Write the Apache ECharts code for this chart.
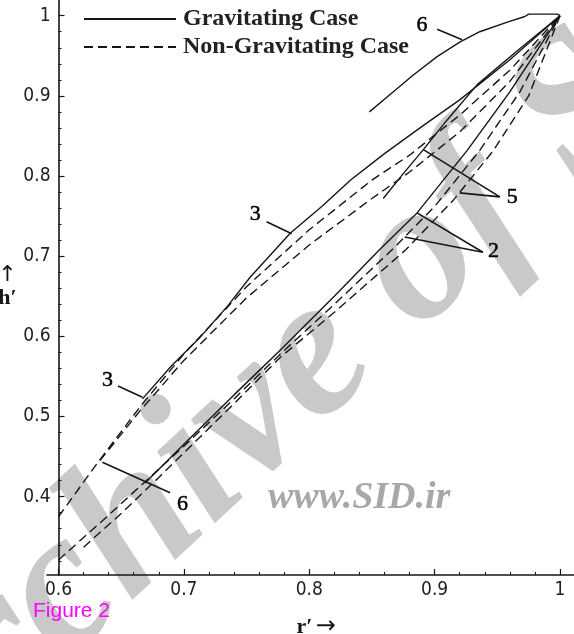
<!DOCTYPE html>
<html><head><meta charset="utf-8">
<script src="https://cdn.jsdelivr.net/npm/echarts@6/dist/echarts.min.js"></script>
<style>html,body{margin:0;padding:0;background:#fff}#c{width:574px;height:634px}</style>
</head><body><div id="c"></div>
<script>
// ---- axis ticks ----
const xTicks = [0.6, 0.7, 0.8, 0.9, 1.0];
const xMinorTicks = [0.62,0.64,0.66,0.68,0.72,0.74,0.76,0.78,0.82,0.84,0.86,0.88,0.92,0.94,0.96,0.98];
const yTicks = [0.4, 0.5, 0.6, 0.7, 0.8, 0.9, 1.0];
const yMinorTicks = [0.32,0.34,0.36,0.38,0.42,0.44,0.46,0.48,0.52,0.54,0.56,0.58,0.62,0.64,0.66,0.68,0.72,0.74,0.76,0.78,0.82,0.84,0.86,0.88,0.92,0.94,0.96,0.98];

// ---- gravitating case (solid) ----
const grav2 = [[0.669,0.417],[0.701,0.467],[0.74,0.527],[0.777,0.583],[0.82,0.650],[0.856,0.708],[0.886,0.754],[0.926,0.832],[0.96,0.905],[1,1]];
const grav3 = [[0.667,0.522],[0.69,0.563],[0.713,0.599],[0.735,0.638],[0.753,0.674],[0.785,0.729],[0.81,0.762],[0.833,0.795],[0.86,0.828],[0.89,0.862],[0.92,0.895],[0.96,0.945],[1,1]];
const grav5 = [[0.859,0.772],[0.875,0.803],[0.891,0.833],[0.91,0.870],[0.934,0.914],[0.965,0.955],[1,1]];
const grav6 = [[0.848,0.880],[0.864,0.901],[0.883,0.926],[0.902,0.949],[0.920,0.967],[0.936,0.980],[0.958,0.992],[0.972,0.999],[0.975,1.002],[0.998,1.002],[1,1]];

// ---- non-gravitating case (dashed) ----
const nongrav2 = [[0.6,0.321],[0.64,0.377],[0.67,0.420],[0.70,0.463],[0.74,0.522],[0.777,0.578],[0.82,0.640],[0.866,0.708],[0.90,0.762],[0.936,0.832],[0.968,0.905],[1,1]];
const nongrav3 = [[0.6,0.375],[0.631,0.442],[0.665,0.512],[0.7,0.578],[0.75,0.662],[0.8,0.733],[0.85,0.795],[0.88,0.826],[0.92,0.876],[0.96,0.932],[1,1]];
const nongrav5 = [[0.62,0.337],[0.65,0.379],[0.68,0.424],[0.71,0.470],[0.74,0.516],[0.777,0.574],[0.82,0.630],[0.877,0.708],[0.915,0.770],[0.947,0.832],[0.975,0.900],[1,1]];
const nongrav6 = [[0.633,0.445],[0.665,0.507],[0.7,0.570],[0.75,0.648],[0.8,0.714],[0.85,0.772],[0.88,0.805],[0.92,0.855],[0.96,0.918],[1,1]];

// ---- curve annotations ----
const annoLabels = [['6',0.890,0.988],['3',0.757,0.752],['5',0.962,0.773],['2',0.947,0.706],['3',0.639,0.545],['6',0.699,0.390]];
const leaders = [
  [[0.902,0.983],[0.922,0.970]],
  [[0.766,0.743],[0.786,0.728]],
  [[0.952,0.774],[0.891,0.833]],
  [[0.952,0.774],[0.920,0.779]],
  [[0.9385,0.705],[0.886,0.754]],
  [[0.9385,0.705],[0.876,0.724]],
  [[0.6475,0.538],[0.667,0.524]],
  [[0.689,0.405],[0.635,0.443]]
];

const X_MIN = 0.6, X_MAX = 1.01117, X_LINE_MIN = 0.59083, Y_MIN = 0.3023, Y_MAX = 1.0196;
const INK = '#161616';
const tickFont = '"Liberation Sans Narrow","DejaVu Sans Condensed",sans-serif';
const serif = '"Liberation Serif","DejaVu Serif",serif';
const fmt = v => Math.abs(v - 1) < 1e-9 ? '1' : v.toFixed(1);

const gridMain = {left: 58.5, right: 0, top: 0, bottom: 59, containLabel: false, outerBoundsMode: 'none'};
const gridWide = {left: 47, right: 0, top: 0, bottom: 59, containLabel: false, outerBoundsMode: 'none'};
const series = [];
const solidLine = {color: INK, width: 1.4, type: 'solid'};
const dashLine = {color: INK, width: 1.4, type: [9, 5]};
[grav2, grav3, grav5, grav6].forEach(d => series.push({
  type: 'line', name: 'Gravitating Case', data: d, symbol: 'none', showSymbol: false,
  lineStyle: solidLine, itemStyle: {color: INK}, smooth: false, z: 3, silent: true
}));
[nongrav2, nongrav3, nongrav5, nongrav6].forEach(d => series.push({
  type: 'line', name: 'Non-Gravitating Case', data: d, symbol: 'none', showSymbol: false,
  lineStyle: dashLine, itemStyle: {color: INK}, smooth: false, z: 3, silent: true
}));
series.push({
  type: 'lines', coordinateSystem: 'cartesian2d', silent: true, z: 4,
  data: leaders.map(c => ({coords: c})),
  lineStyle: {color: INK, width: 1.6, opacity: 1}
});
series.push({
  type: 'scatter', silent: true, z: 5, symbol: 'circle', symbolSize: 0, itemStyle: {color: INK, opacity: 1},
  data: annoLabels.map(([t, x, y]) => ({value: [x, y], label: {formatter: t}})),
  label: {show: true, position: 'inside', fontFamily: serif, fontSize: 22, color: '#000',
          textBorderColor: '#000', textBorderWidth: 0.5}
});

const chart = echarts.init(document.getElementById('c'), null, {renderer: 'canvas'});
chart.setOption({
  animation: false,
  backgroundColor: '#fff',
  grid: [gridMain, Object.assign({}, gridMain), gridWide],
  legend: {
    left: 83, top: 7, padding: 0, orient: 'vertical', itemWidth: 92, itemHeight: 20, itemGap: 4,
    selectedMode: false, data: ['Gravitating Case', 'Non-Gravitating Case'],
    itemStyle: {opacity: 0, borderWidth: 0},
    textStyle: {fontFamily: serif, fontWeight: 'bold', fontSize: 24, color: '#222', padding: [0, 0, 0, 2]}
  },
  xAxis: [
    {type: 'value', gridIndex: 0, min: X_MIN, max: X_MAX, position: 'bottom',
     name: '{r|r′} {a|→}', nameLocation: 'middle', nameGap: 40,
     nameTextStyle: {rich: {
       r: {fontFamily: serif, fontWeight: 'bold', fontSize: 22, color: INK},
       a: {fontFamily: '"DejaVu Sans",sans-serif', fontSize: 24, color: INK}
     }},
     axisLine: {show: false},
     axisTick: {inside: true, length: 6, lineStyle: {color: INK, width: 1.2}, customValues: xTicks},
     axisLabel: {customValues: xTicks, formatter: fmt, margin: 6, fontFamily: tickFont, fontSize: 19, color: '#222'},
     splitLine: {show: false}},
    {type: 'value', gridIndex: 1, min: X_MIN, max: X_MAX, position: 'bottom',
     axisLine: {show: false},
     axisTick: {inside: true, length: 3, lineStyle: {color: INK, width: 1}, customValues: xMinorTicks},
     axisLabel: {show: false}, splitLine: {show: false}},
    {type: 'value', gridIndex: 2, min: X_LINE_MIN, max: X_MAX, position: 'bottom',
     axisLine: {show: true, lineStyle: {color: INK, width: 1.6}},
     axisTick: {show: false}, axisLabel: {show: false}, splitLine: {show: false}}
  ],
  yAxis: [
    {type: 'value', gridIndex: 0, min: Y_MIN, max: Y_MAX, position: 'left',
     name: '{a|↑}\n{h|h′}', nameLocation: 'middle', nameRotate: 0, nameGap: 51,
     nameTextStyle: {align: 'center', rich: {
       a: {fontFamily: '"DejaVu Sans",sans-serif', fontSize: 22, color: INK, lineHeight: 22, align: 'center'},
       h: {fontFamily: serif, fontWeight: 'bold', fontSize: 22, color: INK, lineHeight: 24, align: 'center'}
     }},
     axisLine: {show: true, lineStyle: {color: INK, width: 1.6}},
     axisTick: {inside: true, length: 6, lineStyle: {color: INK, width: 1.2}, customValues: yTicks},
     axisLabel: {customValues: yTicks, formatter: fmt, margin: 8, fontFamily: tickFont, fontSize: 19, color: '#222'},
     splitLine: {show: false}},
    {type: 'value', gridIndex: 1, min: Y_MIN, max: Y_MAX, position: 'left',
     axisLine: {show: false},
     axisTick: {inside: true, length: 3, lineStyle: {color: INK, width: 1}, customValues: yMinorTicks},
     axisLabel: {show: false}, splitLine: {show: false}},
    {type: 'value', gridIndex: 2, min: Y_MIN, max: Y_MAX, show: false}
  ],
  graphic: [
    {type: 'text', x: 330, y: 345, rotation: 43 * Math.PI / 180, z: -10, silent: true,
     style: {text: 'Archive of SID', font: 'italic bold 200px "Liberation Serif"', fill: '#c9c9c9', align: 'center', verticalAlign: 'middle'}},
    {type: 'text', x: 268, y: 498, z: -9, silent: true,
     style: {text: 'www.SID.ir', font: 'italic bold 38px "Liberation Serif"', fill: '#a8a8a8', verticalAlign: 'middle'}},
    {type: 'text', x: 33, y: 611, silent: true,
     style: {text: 'Figure 2', font: '21px "Liberation Sans"', fill: '#ff00ff', verticalAlign: 'middle'}}
  ],
  series: series
});
</script></body></html>
